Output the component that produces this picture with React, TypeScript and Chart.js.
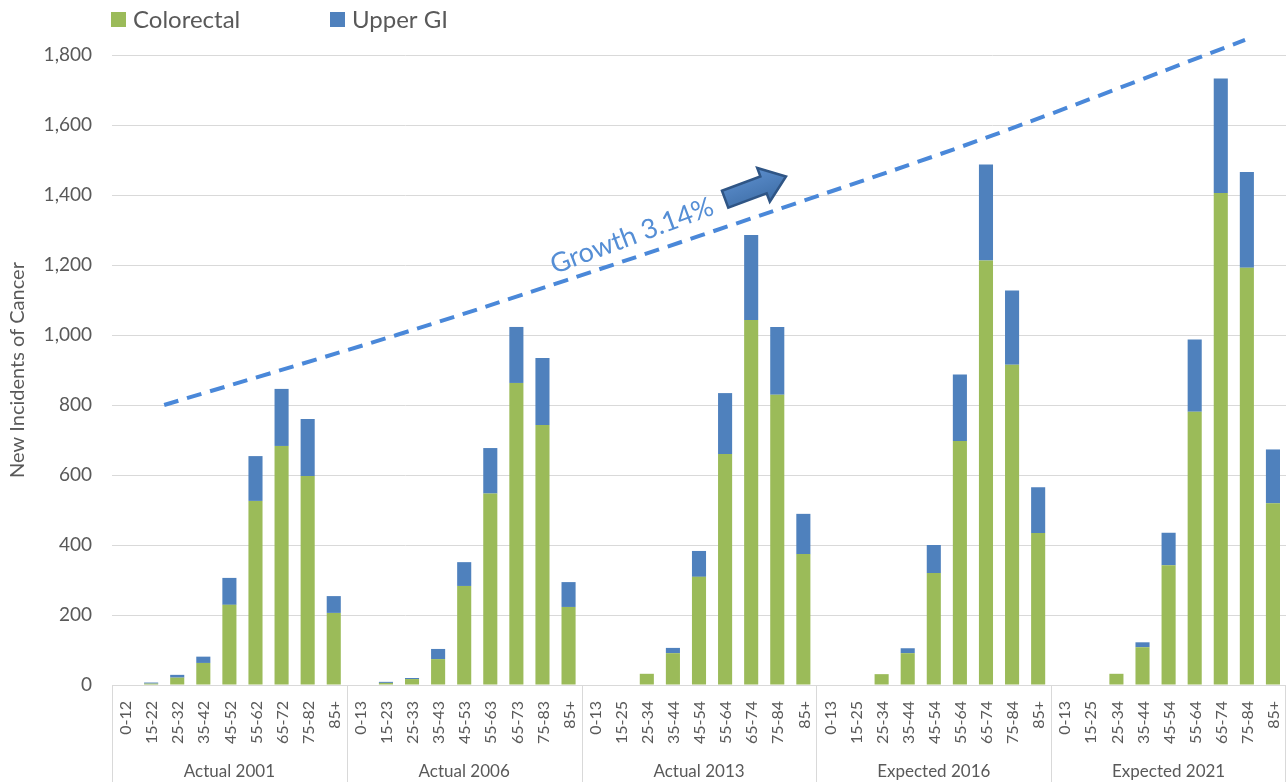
import React, { useEffect, useRef } from 'react';
import { Chart, registerables } from 'chart.js';

Chart.register(...registerables);

const groups = ['Actual 2001', 'Actual 2006', 'Actual 2013', 'Expected 2016', 'Expected 2021'];

const ages2001 = ['0-12', '15-22', '25-32', '35-42', '45-52', '55-62', '65-72', '75-82', '85+'];
const ages2006 = ['0-13', '15-23', '25-33', '35-43', '45-53', '55-63', '65-73', '75-83', '85+'];
const ages2013 = ['0-13', '15-25', '25-34', '35-44', '45-54', '55-64', '65-74', '75-84', '85+'];
const ages2016 = ['0-13', '15-25', '25-34', '35-44', '45-54', '55-64', '65-74', '75-84', '85+'];
const ages2021 = ['0-13', '15-25', '25-34', '35-44', '45-54', '55-64', '65-74', '75-84', '85+'];
const ageGroups = [ages2001, ages2006, ages2013, ages2016, ages2021];
const ageLabels = ageGroups.flat();
// unique category keys (group + age band) so repeated age bands stay separate
const categoryKeys = ageGroups.flatMap((ages, g) => ages.map((a) => `${groups[g]} ${a}`));

const colorectal2001 = [0, 4, 21, 63, 229, 526, 683, 597, 206];
const colorectal2006 = [0, 6, 17, 74, 283, 547, 863, 743, 223];
const colorectal2013 = [0, 0, 32, 91, 309, 660, 1043, 829, 374];
const colorectal2016 = [0, 0, 31, 91, 320, 697, 1213, 915, 434];
const colorectal2021 = [0, 0, 32, 108, 342, 781, 1406, 1192, 519];

const upperGI2001 = [0, 3, 8, 18, 77, 128, 163, 163, 48];
const upperGI2006 = [0, 3, 3, 29, 68, 130, 160, 191, 71];
const upperGI2013 = [0, 0, 0, 15, 74, 174, 243, 194, 115];
const upperGI2016 = [0, 0, 0, 14, 80, 190, 274, 212, 131];
const upperGI2021 = [0, 0, 0, 14, 93, 206, 327, 274, 154];

const colorectal = [...colorectal2001, ...colorectal2006, ...colorectal2013, ...colorectal2016, ...colorectal2021];
const upperGI = [...upperGI2001, ...upperGI2006, ...upperGI2013, ...upperGI2016, ...upperGI2021];

// Growth trend (dashed line): category index / value
const trendIndex = [1.5, 10.41, 16.93, 25.23, 33.28, 42.93];
const trendValue = [800, 1000, 1157, 1364, 1571, 1843];

const growthText = 'Growth 3.14%';
const growthTextAt = { index: 19.43, value: 1283 };
const growthArrowAt = { index: 24.15, value: 1420 };

const yMax = 1800;
const yStep = 200;

const FONT = 'Lato, "Open Sans", sans-serif';
const TEXT = '#595959';
const GREEN = '#9bbb59';
const BLUE = '#4f81bd';
const GRID = '#d9d9d9';

const overlay = {
  id: 'overlay',
  afterDatasetsDraw(chart: any) {
    const { ctx, scales } = chart;
    const x = scales.x;
    const y = scales.y;
    // dashed growth trend, smooth curve through the read points
    const pts = trendIndex.map((v, i) => [x.getPixelForValue(v), y.getPixelForValue(trendValue[i])]);
    ctx.save();
    ctx.strokeStyle = '#4a88d9';
    ctx.lineWidth = 4;
    ctx.setLineDash([15, 9]);
    ctx.lineCap = 'butt';
    ctx.beginPath();
    ctx.moveTo(pts[0][0], pts[0][1]);
    for (let i = 0; i < pts.length - 1; i++) {
      const p0 = pts[Math.max(i - 1, 0)];
      const p1 = pts[i];
      const p2 = pts[i + 1];
      const p3 = pts[Math.min(i + 2, pts.length - 1)];
      const c1x = p1[0] + (p2[0] - p0[0]) / 6;
      const c1y = p1[1] + (p2[1] - p0[1]) / 6;
      const c2x = p2[0] - (p3[0] - p1[0]) / 6;
      const c2y = p2[1] - (p3[1] - p1[1]) / 6;
      ctx.bezierCurveTo(c1x, c1y, c2x, c2y, p2[0], p2[1]);
    }
    ctx.stroke();
    ctx.restore();
  },
  afterDraw(chart: any) {
    const { ctx, chartArea, scales } = chart;
    const x = scales.x;
    const y = scales.y;
    ctx.save();

    // legend
    const ds = chart.data.datasets;
    const legendX = [chartArea.left - 1, chartArea.left + 218];
    ctx.font = `24px ${FONT}`;
    ctx.textBaseline = 'middle';
    ctx.textAlign = 'left';
    ds.forEach((d: any, i: number) => {
      ctx.fillStyle = d.backgroundColor;
      ctx.fillRect(legendX[i], 12, 15, 15);
      ctx.fillStyle = TEXT;
      ctx.fillText(d.label, legendX[i] + 22, 20);
    });

    // group separators
    ctx.strokeStyle = GRID;
    ctx.lineWidth = 1;
    for (let g = 0; g <= groups.length; g++) {
      let px = Math.round(x.getPixelForValue(g * 9 - 0.5)) + 0.5;
      if (px > chart.width) px = chart.width - 0.5;
      ctx.beginPath();
      ctx.moveTo(px, chartArea.bottom);
      ctx.lineTo(px, chart.height);
      ctx.stroke();
    }

    // age tick labels
    ctx.fillStyle = TEXT;
    ctx.font = `16px ${FONT}`;
    ageLabels.forEach((lab, i) => {
      const px = x.getPixelForValue(i);
      ctx.save();
      ctx.translate(px + 1, chartArea.bottom + 16);
      ctx.rotate(-Math.PI / 2);
      ctx.textAlign = 'right';
      ctx.textBaseline = 'middle';
      ctx.fillText(lab, 0, 0);
      ctx.restore();
    });

    // group labels
    ctx.font = `17px ${FONT}`;
    ctx.textAlign = 'center';
    ctx.textBaseline = 'middle';
    groups.forEach((g, k) => {
      const px = x.getPixelForValue(k * 9 + 4);
      ctx.fillText(g, px, chartArea.bottom + 87);
    });

    const angle = -20.5 * Math.PI / 180;

    // growth text
    ctx.save();
    ctx.translate(x.getPixelForValue(growthTextAt.index), y.getPixelForValue(growthTextAt.value));
    ctx.rotate(angle);
    ctx.font = `27px ${FONT}`;
    ctx.fillStyle = '#558ed5';
    ctx.textAlign = 'center';
    ctx.textBaseline = 'middle';
    ctx.fillText(growthText, 0, 0);
    ctx.restore();

    // block arrow
    ctx.save();
    ctx.translate(x.getPixelForValue(growthArrowAt.index), y.getPixelForValue(growthArrowAt.value));
    ctx.rotate(angle);
    ctx.beginPath();
    ctx.moveTo(-32, -9);
    ctx.lineTo(9, -9);
    ctx.lineTo(9, -18);
    ctx.lineTo(33, 0);
    ctx.lineTo(9, 18);
    ctx.lineTo(9, 9);
    ctx.lineTo(-32, 9);
    ctx.closePath();
    const grad = ctx.createLinearGradient(0, -18, 0, 18);
    grad.addColorStop(0, '#5a8ccb');
    grad.addColorStop(1, '#3f6fa8');
    ctx.fillStyle = grad;
    ctx.fill();
    ctx.strokeStyle = '#2f5585';
    ctx.lineWidth = 2.5;
    ctx.lineJoin = 'miter';
    ctx.stroke();
    ctx.restore();

    ctx.restore();
  },
};

export default function App() {
  const ref = useRef<HTMLCanvasElement | null>(null);

  useEffect(() => {
    document.body.style.margin = '0';
    if (!ref.current) return;
    const chart = new Chart(ref.current, {
      type: 'bar',
      data: {
        labels: categoryKeys,
        datasets: [
          {
            label: 'Colorectal',
            data: colorectal,
            backgroundColor: GREEN,
            barPercentage: 0.54,
            categoryPercentage: 1,
          },
          {
            label: 'Upper GI',
            data: upperGI,
            backgroundColor: BLUE,
            barPercentage: 0.54,
            categoryPercentage: 1,
          },
        ],
      },
      options: {
        responsive: false,
        animation: false,
        layout: { padding: { top: 55, right: 0, bottom: 0, left: 0 } },
        plugins: {
          legend: { display: false },
          tooltip: { enabled: false },
        },
        scales: {
          x: {
            type: 'category',
            stacked: true,
            offset: true,
            grid: { display: false },
            border: { display: true, color: GRID },
            ticks: { display: false },
            afterFit: (s: any) => { s.height = 97; },
          },
          y: {
            stacked: true,
            min: 0,
            max: yMax,
            grid: { color: GRID, drawTicks: false },
            border: { display: false },
            ticks: {
              stepSize: yStep,
              padding: 20,
              color: TEXT,
              font: { family: FONT, size: 19 },
              callback: (v: any) => Number(v).toLocaleString('en-US'),
            },
            title: {
              display: true,
              text: 'New Incidents of Cancer',
              color: TEXT,
              font: { family: FONT, size: 20 },
              padding: { top: 6, bottom: 0 },
            },
            afterFit: (s: any) => { s.width = 112; },
          },
        },
      },
      plugins: [overlay],
    });
    return () => chart.destroy();
  }, []);

  return (
    <div style={{ width: 1286, height: 782 }}>
      <canvas ref={ref} width={1286} height={782} style={{ display: 'block' }} />
    </div>
  );
}
